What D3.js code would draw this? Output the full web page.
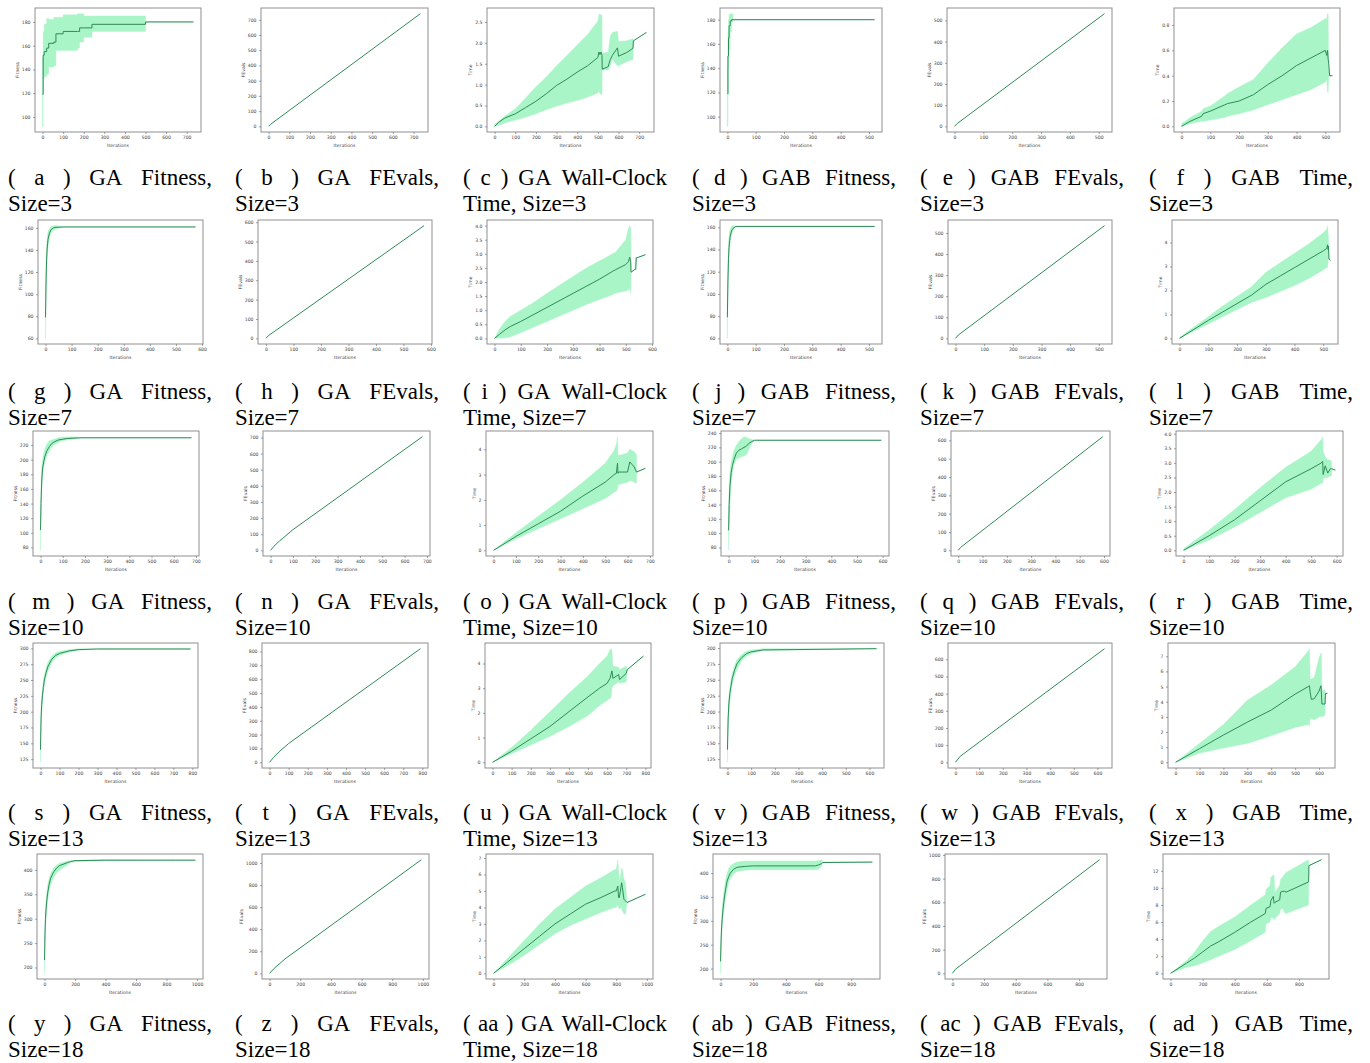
<!DOCTYPE html>
<html><head><meta charset="utf-8">
<script src="https://cdn.jsdelivr.net/npm/d3@7"></script>
<style>body{margin:0;background:#fff}svg{display:block}</style>
</head><body>
<svg id="chart" width="1370" height="1063"></svg>
<script>
// ---------- DATA (iterations, mean, lower band, upper band) ----------
// (a) GA Fitness, Size=3
const a_x  = [0,3,8,20,30,55,65,100,170,180,200,240,500,733];
const a_m  = [119,152,155,158,162,163,170,172,172,175,175,178,180,180];
const a_lo = [92,132,134,136,142,143,156,156,158,163,167,172,180,180];
const a_hi = [150,172,178,183,182,184,184,186,187,187,185,185,180,180];
// (b) GA FEvals, Size=3
const b_x = [0,10,733];
const b_m = [0,14,740];
// (c) GA Wall-Clock Time, Size=3
const c_x  = [0,20,50,100,150,200,250,300,350,400,450,500,505,510,515,520,521,550,560,570,595,600,640,670,672,735];
const c_m  = [0,0.1,0.2,0.3,0.45,0.6,0.78,0.98,1.13,1.3,1.45,1.65,1.78,1.72,1.78,1.7,1.37,1.43,1.6,1.7,1.88,1.68,1.77,1.87,2.05,2.25];
const c_lo = [0,0.02,0.08,0.15,0.22,0.3,0.4,0.48,0.56,0.62,0.7,0.8,0.85,0.78,0.78,0.75,1.35,1.35,1.45,1.6,1.45,1.45,1.55,1.6,2.05,2.25];
const c_hi = [0.05,0.12,0.25,0.42,0.68,0.95,1.18,1.45,1.7,1.95,2.2,2.52,2.67,2.7,2.65,2.68,1.75,1.78,2.15,2.25,2.28,2.03,2.05,2.1,2.05,2.25];
// (d) GAB Fitness, Size=3
const d_x  = [0,2,4,6,10,15,20,520];
const d_m  = [119,150,165,175,179,180,180,180];
const d_lo = [92,118,140,155,170,178,180,180];
const d_hi = [140,170,180,184,185,185,180,180];
// (e) GAB FEvals, Size=3
const e_x = [0,10,520];
const e_m = [0,14,532];
// (f) GAB Time, Size=3
const f_x  = [0,30,70,75,100,150,160,200,250,300,350,400,450,500,505,508,510,512,515,525];
const f_m  = [0,0.04,0.08,0.1,0.12,0.17,0.18,0.2,0.25,0.33,0.4,0.48,0.54,0.6,0.56,0.6,0.53,0.5,0.4,0.4];
const f_lo = [0,0.02,0.04,0.04,0.05,0.07,0.08,0.1,0.13,0.17,0.21,0.25,0.29,0.35,0.37,0.27,0.27,0.4,0.4,0.4];
const f_hi = [0.02,0.07,0.12,0.14,0.16,0.24,0.26,0.31,0.37,0.5,0.62,0.73,0.78,0.85,0.85,0.89,0.89,0.45,0.4,0.4];
// (g) GA Fitness, Size=7
const g_x  = [0,2,4,6,8,10,15,20,25,30,40,70,575];
const g_m  = [79,110,130,140,146,150,155,158,159,160,160.5,160.8,160.8];
const g_lo = [60,95,118,130,138,143,150,155,157,158,159,160.8,160.8];
const g_hi = [100,125,142,150,154,157,159,161,161.5,162,162,160.8,160.8];
// (h) GA FEvals, Size=7
const h_x = [0,10,575];
const h_m = [0,15,582];
// (i) GA Wall-Clock Time, Size=7
const i_x  = [0,20,40,60,100,150,200,250,300,350,400,450,460,500,510,515,519,520,521,535,538,540,575];
const i_m  = [0,0.15,0.3,0.42,0.6,0.85,1.1,1.35,1.6,1.85,2.1,2.38,2.43,2.62,2.72,2.88,2.7,2.35,2.35,2.45,2.45,2.85,2.97];
const i_lo = [0,0,0.02,0.05,0.2,0.4,0.6,0.8,1.0,1.2,1.38,1.55,1.6,1.68,1.72,1.75,1.6,2.35,2.35,2.45,2.45,2.85,2.97];
const i_hi = [0,0.35,0.6,0.78,1.0,1.28,1.6,1.9,2.2,2.5,2.75,3.0,3.05,3.5,3.9,4.0,3.9,2.35,2.35,2.45,2.9,2.85,2.97];
// (j) GAB Fitness, Size=7
const j_x  = [0,2,4,6,8,10,15,20,30,520];
const j_m  = [79,112,132,142,148,152,157,159,160.8,160.8];
const j_lo = [60,95,120,134,142,147,153,157,160.8,160.8];
const j_hi = [100,128,145,152,156,158,161,161.5,160.8,160.8];
// (k) GAB FEvals, Size=7
const k_x = [0,10,520];
const k_m = [0,16,535];
// (l) GAB Time, Size=7
const l_x  = [0,100,150,200,250,300,350,400,450,500,512,515,517,518,520,525];
const l_m  = [0,0.75,1.1,1.45,1.8,2.25,2.6,2.95,3.3,3.65,3.75,3.9,3.7,3.85,3.3,3.25];
const l_lo = [0,0.6,0.9,1.2,1.5,1.7,1.95,2.2,2.5,2.85,2.95,2.95,3.3,3.3,3.3,3.25];
const l_hi = [0.05,0.9,1.35,1.75,2.15,2.75,3.15,3.55,3.95,4.4,4.55,4.7,4.3,4.3,3.3,3.25];
// (m) GA Fitness, Size=10
const m_x  = [0,2,4,6,10,15,20,30,40,50,60,80,100,120,150,182,680];
const m_m  = [104,140,160,175,190,198,205,213,218,222,224,227,228,229,229.5,230,230];
const m_lo = [76,115,140,160,180,190,198,207,212,217,220,224,226,227,228,230,230];
const m_hi = [110,160,180,192,202,210,215,222,226,227,228,230,231,231,231.5,230,230];
// (n) GA FEvals, Size=10
const n_x = [0,15,40,100,680];
const n_m = [0,25,58,128,705];
// (o) GA Wall-Clock Time, Size=10
const o_x  = [0,100,200,300,400,500,540,550,555,557,560,600,610,620,630,640,641,680];
const o_m  = [0,0.55,1.05,1.55,2.15,2.7,3.0,3.05,3.45,3.05,3.1,3.1,3.5,3.4,3.3,3.1,3.1,3.25];
const o_lo = [0,0.45,0.85,1.25,1.65,2.05,2.3,2.35,2.4,2.6,2.6,2.7,2.75,2.75,2.7,2.65,3.1,3.25];
const o_hi = [0,0.7,1.35,2.0,2.7,3.45,3.95,4.2,4.5,3.8,3.75,3.85,4.0,3.95,3.9,3.8,3.1,3.25];
// (p) GAB Fitness, Size=10
const p_x  = [0,2,5,10,15,20,30,40,50,60,70,80,90,100,595];
const p_m  = [104,140,165,185,195,202,212,216,218,220,222,226,228,230,230];
const p_lo = [76,110,140,170,185,195,203,205,207,208,210,218,225,230,230];
const p_hi = [130,165,185,200,208,215,223,228,232,235,234,232,231,230,230];
// (q) GAB FEvals, Size=10
const q_x = [0,10,595];
const q_m = [0,16,620];
// (r) GAB Time, Size=10
const r_x  = [0,100,200,300,400,500,540,545,547,555,565,575,580,581,595];
const r_m  = [0,0.5,1.05,1.7,2.35,2.8,3.0,3.05,2.6,2.9,2.65,2.8,2.8,2.8,2.75];
const r_lo = [0,0.35,0.8,1.3,1.8,2.1,2.3,2.3,2.45,2.5,2.5,2.55,2.55,2.8,2.75];
const r_hi = [0.05,0.7,1.4,2.15,2.85,3.4,3.8,3.9,3.4,3.2,3.1,3.1,3.05,2.8,2.75];
// (s) GA Fitness, Size=13
const s_x  = [0,3,6,10,15,20,30,40,60,80,100,150,200,300,790];
const s_m  = [140,190,210,225,238,250,262,272,283,289,292,296,298,299,299];
const s_lo = [120,170,195,212,228,240,255,265,278,285,289,294,297,299,299];
const s_hi = [160,205,222,236,248,258,270,279,288,293,295,298,299.5,299,299];
// (t) GA FEvals, Size=13
const t_x = [0,20,50,100,790];
const t_m = [0,34,76,136,820];
// (u) GA Wall-Clock Time, Size=13
const u_x  = [0,100,200,300,400,500,560,600,615,620,625,630,660,665,700,705,790];
const u_m  = [0,0.45,0.95,1.45,2.05,2.65,3.0,3.2,3.4,3.55,3.7,3.4,3.55,3.35,3.6,3.75,4.3];
const u_lo = [0,0.35,0.7,1.05,1.45,1.9,2.3,2.5,2.6,2.6,3.0,3.1,3.25,3.2,3.25,3.75,4.3];
const u_hi = [0,0.6,1.3,2.05,2.8,3.5,4.0,4.3,4.55,4.6,4.55,3.9,3.85,3.75,3.9,3.75,4.3];
// (v) GAB Fitness, Size=13
const v_x  = [0,3,6,10,15,20,30,40,60,80,100,150,630];
const v_m  = [140,190,212,228,240,252,265,275,285,291,294,297,299];
const v_lo = [120,172,196,214,230,242,256,266,280,287,291,296,299];
const v_hi = [160,206,224,238,250,260,272,282,290,295,297,299,299];
// (w) GAB FEvals, Size=13
const w_x = [0,20,630];
const w_m = [0,35,662];
// (x) GAB Time, Size=13
const x_x  = [0,100,200,300,400,500,555,560,563,568,580,600,608,610,612,625,627,635];
const x_m  = [0,0.9,1.8,2.65,3.45,4.5,5.0,5.05,4.6,4.15,4.2,4.7,5.05,4.5,3.85,3.85,4.55,4.55];
const x_lo = [0,0.6,0.95,1.25,1.75,2.3,2.5,2.4,2.9,2.9,2.8,3.0,3.0,3.0,3.0,3.1,4.55,4.55];
const x_hi = [0,1.25,2.5,4.1,5.1,6.3,7.35,7.5,5.5,5.5,5.6,6.9,7.2,7.2,4.75,4.75,4.55,4.55];
// (y) GA Fitness, Size=18
const y_x  = [0,3,6,10,15,20,30,40,60,80,100,150,170,200,400,860,990];
const y_m  = [215,270,300,320,338,352,370,383,396,404,409,415,417,419,420,420,420];
const y_lo = [188,250,280,300,320,335,355,370,385,394,400,410,415,417,419,420,420];
const y_hi = [240,290,318,338,355,368,383,393,404,410,414,418,419,420,421,420,420];
// (z) GA FEvals, Size=18
const z_x = [0,30,100,990];
const z_m = [0,45,130,1030];
// (aa) GA Wall-Clock Time, Size=18
const aa_x  = [0,100,200,300,400,500,600,700,790,800,810,815,820,835,840,850,860,870,990];
const aa_m  = [0,0.75,1.5,2.25,3.0,3.6,4.2,4.6,5.0,5.0,5.3,4.6,4.6,5.5,5.2,4.5,4.4,4.3,4.8];
const aa_lo = [0,0.5,1.1,1.75,2.4,2.9,3.3,3.7,4.0,4.0,4.2,4.0,3.9,4.0,3.8,3.6,3.6,4.3,4.8];
const aa_hi = [0,1.0,2.0,3.0,3.9,4.6,5.3,5.8,6.3,6.3,6.9,6.2,5.5,6.4,6.3,5.7,5.5,4.3,4.8];
// (ab) GAB Fitness, Size=18
const ab_x  = [0,3,6,10,15,20,30,40,50,60,80,100,150,200,580,600,620,625,930];
const ab_m  = [215,260,285,305,325,340,365,383,393,400,408,412,414,415,415,417,420,422,423];
const ab_lo = [190,240,265,285,305,320,345,365,380,388,398,403,406,407,407,408,415,423,423];
const ab_hi = [240,280,305,325,345,360,385,400,410,415,420,423,425,425,425,426,428,423,423];
// (ac) GAB FEvals, Size=18
const ac_x = [0,20,930];
const ac_m = [0,35,960];
// (ad) GAB Time, Size=18
const ad_x  = [0,100,150,200,250,300,400,500,590,595,620,625,640,645,650,680,685,700,710,720,860,862,940];
const ad_m  = [0,1.2,1.8,2.5,3.2,3.7,4.8,6.0,7.0,7.6,7.8,8.5,9.0,8.2,8.3,8.6,9.5,9.6,9.6,9.5,10.7,12.6,13.3];
const ad_lo = [0,0.7,0.9,1.2,1.6,2.0,2.8,3.8,4.8,5.8,6.0,6.5,6.5,6.2,6.4,7.0,7.5,7.6,7.1,7.0,8.0,12.6,13.3];
const ad_hi = [0,1.5,2.5,3.8,4.9,5.5,6.6,8.0,9.2,9.8,10.3,11.2,11.5,11.5,9.5,10.3,11.0,11.3,11.6,11.8,13.3,12.6,13.3];

// tick values
const ticksFit3 = [100,120,140,160,180];
const ticksFit7 = [60,80,100,120,140,160];
const ticksFit10a = [80,100,120,140,160,180,200,220];
const ticksFit10b = [80,100,120,140,160,180,200,220,240];
const ticksFit13 = [125,150,175,200,225,250,275,300];
const ticksFit18 = [200,250,300,350,400];
const ticks0_500 = [0,100,200,300,400,500];
const ticks0_600 = [0,100,200,300,400,500,600];
const ticks0_700 = [0,100,200,300,400,500,600,700];
const ticks0_800 = [0,100,200,300,400,500,600,700,800];
const ticks0_800b = [0,200,400,600,800];
const ticks0_1000 = [0,200,400,600,800,1000];
const ticksT_c = [0,0.5,1,1.5,2,2.5];
const ticksT_f = [0,0.2,0.4,0.6,0.8];
const ticksT_half4 = [0,0.5,1,1.5,2,2.5,3,3.5,4];
const ticksT_4 = [0,1,2,3,4];
const ticksT_7 = [0,1,2,3,4,5,6,7];
const ticksT_12 = [0,2,4,6,8,10,12];

// captions
const capLine1 = ["( a ) GA Fitness,","( b ) GA FEvals,","( c ) GA Wall-Clock","( d ) GAB Fitness,","( e ) GAB FEvals,","( f ) GAB Time,",
 "( g ) GA Fitness,","( h ) GA FEvals,","( i ) GA Wall-Clock","( j ) GAB Fitness,","( k ) GAB FEvals,","( l ) GAB Time,",
 "( m ) GA Fitness,","( n ) GA FEvals,","( o ) GA Wall-Clock","( p ) GAB Fitness,","( q ) GAB FEvals,","( r ) GAB Time,",
 "( s ) GA Fitness,","( t ) GA FEvals,","( u ) GA Wall-Clock","( v ) GAB Fitness,","( w ) GAB FEvals,","( x ) GAB Time,",
 "( y ) GA Fitness,","( z ) GA FEvals,","( aa ) GA Wall-Clock","( ab ) GAB Fitness,","( ac ) GAB FEvals,","( ad ) GAB Time,"];
const sizes = ["3","7","10","13","18"];

// panel definitions (per row: Fitness GA, FEvals GA, Time GA, Fitness GAB, FEvals GAB, Time GAB)
const P = [
 {x:a_x,m:a_m,lo:a_lo,hi:a_hi,xt:ticks0_700,yt:ticksFit3,yl:"Fitness",step:true},
 {x:b_x,m:b_m,xt:ticks0_700,yt:ticks0_700,yl:"FEvals"},
 {x:c_x,m:c_m,lo:c_lo,hi:c_hi,xt:ticks0_700,yt:ticksT_c,yl:"Time"},
 {x:d_x,m:d_m,lo:d_lo,hi:d_hi,xt:ticks0_500,yt:ticksFit3,yl:"Fitness",step:true},
 {x:e_x,m:e_m,xt:ticks0_500,yt:ticks0_500,yl:"FEvals"},
 {x:f_x,m:f_m,lo:f_lo,hi:f_hi,xt:ticks0_500,yt:ticksT_f,yl:"Time"},
 {x:g_x,m:g_m,lo:g_lo,hi:g_hi,xt:ticks0_600,yt:ticksFit7,yl:"Fitness"},
 {x:h_x,m:h_m,xt:ticks0_600,yt:ticks0_600,yl:"FEvals"},
 {x:i_x,m:i_m,lo:i_lo,hi:i_hi,xt:ticks0_600,yt:ticksT_half4,yl:"Time"},
 {x:j_x,m:j_m,lo:j_lo,hi:j_hi,xt:ticks0_500,yt:ticksFit7,yl:"Fitness"},
 {x:k_x,m:k_m,xt:ticks0_500,yt:ticks0_500,yl:"FEvals"},
 {x:l_x,m:l_m,lo:l_lo,hi:l_hi,xt:ticks0_500,yt:ticksT_4,yl:"Time"},
 {x:m_x,m:m_m,lo:m_lo,hi:m_hi,xt:ticks0_700,yt:ticksFit10a,yl:"Fitness"},
 {x:n_x,m:n_m,xt:ticks0_700,yt:ticks0_700,yl:"FEvals"},
 {x:o_x,m:o_m,lo:o_lo,hi:o_hi,xt:ticks0_700,yt:ticksT_4,yl:"Time"},
 {x:p_x,m:p_m,lo:p_lo,hi:p_hi,xt:ticks0_600,yt:ticksFit10b,yl:"Fitness"},
 {x:q_x,m:q_m,xt:ticks0_600,yt:ticks0_600,yl:"FEvals"},
 {x:r_x,m:r_m,lo:r_lo,hi:r_hi,xt:ticks0_600,yt:ticksT_half4,yl:"Time"},
 {x:s_x,m:s_m,lo:s_lo,hi:s_hi,xt:ticks0_800,yt:ticksFit13,yl:"Fitness"},
 {x:t_x,m:t_m,xt:ticks0_800,yt:ticks0_800,yl:"FEvals"},
 {x:u_x,m:u_m,lo:u_lo,hi:u_hi,xt:ticks0_800,yt:ticksT_4,yl:"Time"},
 {x:v_x,m:v_m,lo:v_lo,hi:v_hi,xt:ticks0_600,yt:ticksFit13,yl:"Fitness"},
 {x:w_x,m:w_m,xt:ticks0_600,yt:ticks0_600,yl:"FEvals"},
 {x:x_x,m:x_m,lo:x_lo,hi:x_hi,xt:ticks0_600,yt:ticksT_7,yl:"Time"},
 {x:y_x,m:y_m,lo:y_lo,hi:y_hi,xt:ticks0_1000,yt:ticksFit18,yl:"Fitness"},
 {x:z_x,m:z_m,xt:ticks0_1000,yt:ticks0_1000,yl:"FEvals"},
 {x:aa_x,m:aa_m,lo:aa_lo,hi:aa_hi,xt:ticks0_1000,yt:ticksT_7,yl:"Time"},
 {x:ab_x,m:ab_m,lo:ab_lo,hi:ab_hi,xt:ticks0_800b,yt:ticksFit18,yl:"Fitness"},
 {x:ac_x,m:ac_m,xt:ticks0_800b,yt:ticks0_1000,yl:"FEvals"},
 {x:ad_x,m:ad_m,lo:ad_lo,hi:ad_hi,xt:ticks0_800b,yt:ticksT_12,yl:"Time"}
];

// ---------- LAYOUT ----------
const frameLR = [
 [35,201],[261,428],[487,654],[720,882],[947,1112],[1174,1340],
 [38,203],[258,432],[487,653],[720,882],[948,1112],[1172,1338],
 [33,199],[263,430],[486,653],[721,889],[951,1110],[1176,1343],
 [33,198],[262,428],[485,651],[720,884],[948,1112],[1168,1335],
 [37,203],[262,429],[486,653],[713,880],[945,1107],[1163,1329]];
const rowTop = [8,220,431,643,854];
const rowBot = [132,344,556,768,979];
const capBase = [185,399,609,820,1031];
const capLeft = [8,235,463,692,920,1149];
const capWidth = 204;

const BAND = "#a9f5c7", LINE = "#2e8b57", FRAME = "#8f8f8f", TXT = "#444";
const svg = d3.select("#chart");

P.forEach((p, k) => {
  const row = Math.floor(k / 6), col = k % 6;
  const [L, R] = frameLR[k], T = rowTop[row], B = rowBot[row];
  const xmin = d3.min(p.x), xmax = d3.max(p.x), xr = xmax - xmin;
  const allY = p.m.concat(p.lo || [], p.hi || []);
  const ymin = d3.min(allY), ymax = d3.max(allY), yr = ymax - ymin;
  const xs = d3.scaleLinear().domain([xmin - 0.05 * xr, xmax + 0.05 * xr]).range([L, R]);
  const ys = d3.scaleLinear().domain([ymin - 0.05 * yr, ymax + 0.05 * yr]).range([B, T]);
  const g = svg.append("g");
  const idx = d3.range(p.x.length);
  const curve = p.step ? d3.curveStepAfter : d3.curveLinear;
  if (p.lo) {
    g.append("path").attr("fill", BAND).attr("stroke", BAND).attr("stroke-width", 0.4)
      .attr("d", d3.area().curve(curve).x(i => xs(p.x[i])).y0(i => ys(p.lo[i])).y1(i => ys(p.hi[i]))(idx));
  }
  g.append("path").attr("fill", "none").attr("stroke", LINE).attr("stroke-width", 1)
    .attr("d", d3.line().curve(curve).x(i => xs(p.x[i])).y(i => ys(p.m[i]))(idx));
  g.append("rect").attr("x", L).attr("y", T).attr("width", R - L).attr("height", B - T)
    .attr("fill", "none").attr("stroke", FRAME).attr("stroke-width", 1);

  const dec = p.yt.some(v => !Number.isInteger(v));
  const yfmt = dec ? d3.format(".1f") : d3.format("d");
  const ax = g.append("g").attr("transform", `translate(0,${B})`)
    .call(d3.axisBottom(xs).tickValues(p.xt).tickSize(2).tickPadding(1.5).tickFormat(d3.format("d")));
  const ay = g.append("g").attr("transform", `translate(${L},0)`)
    .call(d3.axisLeft(ys).tickValues(p.yt).tickSize(2).tickPadding(2.5).tickFormat(yfmt));
  [ax, ay].forEach(a => {
    a.select(".domain").remove();
    a.selectAll("line").attr("stroke", "#666").attr("stroke-width", 0.6);
    a.selectAll("text").attr("fill", TXT).attr("font-size", 4.6).attr("font-family", "DejaVu Sans");
  });
  let maxw = 0;
  ay.selectAll("text").each(function(){ maxw = Math.max(maxw, this.getComputedTextLength()); });
  g.append("text").attr("x", (L + R) / 2).attr("y", B + 14.5).attr("text-anchor", "middle")
    .attr("font-size", 4.6).attr("font-family", "DejaVu Sans").attr("fill", TXT).text("Iterations");
  g.append("text").attr("transform", `translate(${L - 4.5 - maxw - 3},${(T + B) / 2}) rotate(-90)`)
    .attr("text-anchor", "middle").attr("font-size", 4.6).attr("font-family", "DejaVu Sans")
    .attr("fill", TXT).text(p.yl);

  // caption: justified first line, left-aligned second line
  const isTime = k % 6 === 2;
  const line1 = capLine1[k];
  const line2 = (isTime ? "Time, " : "") + "Size=" + sizes[row];
  const words = line1.split(" ");
  const cg = svg.append("g").attr("font-family", "Liberation Serif, Times New Roman, serif")
    .attr("font-size", 23).attr("fill", "#000");
  const nodes = words.map(w => cg.append("text").attr("y", capBase[row]).text(w));
  const widths = nodes.map(n => n.node().getComputedTextLength());
  const gap = (capWidth - d3.sum(widths)) / (words.length - 1);
  let cx = capLeft[col];
  nodes.forEach((n, i) => { n.attr("x", cx); cx += widths[i] + gap; });
  cg.append("text").attr("x", capLeft[col]).attr("y", capBase[row] + 26).text(line2);
});
</script>
</body></html>
